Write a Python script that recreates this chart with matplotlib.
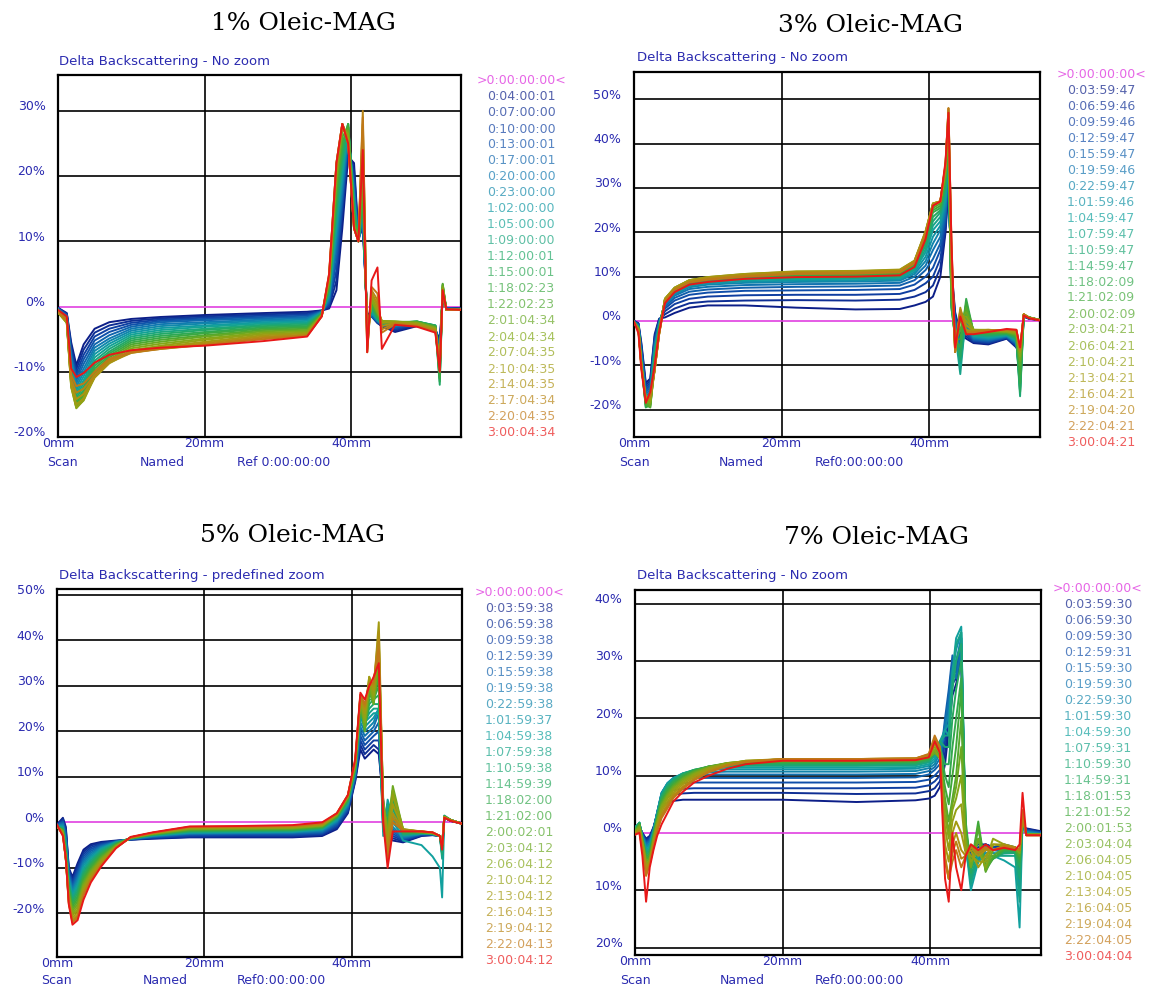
import numpy as np
import matplotlib.pyplot as plt
from matplotlib.colors import LinearSegmentedColormap, to_rgb

# ---------------- 1% Oleic-MAG ----------------
x_1 = [0, 1.2, 1.8, 2.5, 3.5, 5, 7, 10, 14, 20, 28, 34, 36, 37, 38, 38.8, 39.6, 40.4, 41.0, 41.6,
       42.2, 42.8, 43.6, 44.2, 46, 49, 51.5, 52.1, 52.5, 53, 55]
times_1 = ['0:04:00:01', '0:07:00:00', '0:10:00:00', '0:13:00:01', '0:17:00:01', '0:20:00:00',
           '0:23:00:00', '1:02:00:00', '1:05:00:00', '1:09:00:00', '1:12:00:01', '1:15:00:01',
           '1:18:02:23', '1:22:02:23', '2:01:04:34', '2:04:04:34', '2:07:04:35', '2:10:04:35',
           '2:14:04:35', '2:17:04:34', '2:20:04:35', '3:00:04:34']
curves_1 = [
    [-0.2, -1.0, -5.5, -9.0, -5.8, -3.4, -2.4, -1.9, -1.6, -1.3, -1.0, -0.8, -0.6, -0.3, 2.5, 12, 23, 22, 11, 12, -1, -1.5, -2.5, -3, -3.9, -3.0, -3.6, -5, 1, -0.2, -0.3],
    [-0.2, -1.1, -6.0, -9.6, -6.6, -4.0, -2.9, -2.2, -1.8, -1.5, -1.2, -1.0, -0.6, -0.1, 4, 14, 24, 21, 10.5, 12, -1, -1.5, -2.5, -3, -3.7, -2.9, -3.5, -5.5, 1.2, -0.2, -0.3],
    [-0.3, -1.2, -6.5, -10.2, -7.4, -4.6, -3.4, -2.5, -2.0, -1.7, -1.4, -1.2, -0.7, 0.2, 5.5, 15, 25, 20, 10.5, 13, -1.5, -1.5, -2.5, -3, -3.5, -2.8, -3.4, -6, 1.4, -0.3, -0.3],
    [-0.3, -1.3, -7.0, -10.8, -8.1, -5.2, -3.9, -2.8, -2.2, -1.9, -1.6, -1.4, -0.7, 0.5, 7, 16, 25.5, 19, 10, 13, -1.5, -1.5, -2.3, -2.8, -3.3, -2.7, -3.3, -6.5, 1.6, -0.3, -0.4],
    [-0.3, -1.4, -7.5, -11.3, -8.8, -5.8, -4.4, -3.1, -2.4, -2.1, -1.8, -1.6, -0.8, 0.8, 8.5, 17, 26, 18, 10, 14, -2, -1.5, -2.3, -2.8, -3.1, -2.6, -3.2, -7, 1.8, -0.3, -0.4],
    [-0.4, -1.5, -8.0, -11.8, -9.5, -6.3, -4.9, -3.4, -2.7, -2.4, -2.0, -1.8, -0.8, 1.1, 10, 18, 26.5, 17.5, 10, 14, -2, -1, -2.2, -2.7, -3.0, -2.5, -3.1, -7.5, 2, -0.3, -0.4],
    [-0.4, -1.6, -8.5, -12.3, -10.1, -6.8, -5.3, -3.7, -3.0, -2.6, -2.2, -2.0, -0.9, 1.4, 11, 19, 27, 17, 10, 15, -2.5, -1, -2.2, -2.7, -2.9, -2.5, -3.0, -8, 2.2, -0.4, -0.4],
    [-0.5, -1.7, -9.0, -12.8, -10.7, -7.3, -5.7, -4.0, -3.3, -2.9, -2.4, -2.2, -0.9, 1.7, 12, 20, 27, 16.5, 10, 15, -2.5, -1, -2.0, -2.6, -2.8, -2.4, -3.0, -9, 2.4, -0.4, -0.5],
    [-0.5, -1.8, -9.4, -13.2, -11.3, -7.8, -6.1, -4.3, -3.6, -3.1, -2.6, -2.4, -1.0, 2.0, 13, 21, 27.5, 16, 10, 16, -3, -0.5, -2.0, -2.6, -2.7, -2.4, -2.9, -10, 2.6, -0.4, -0.5],
    [-0.6, -1.9, -9.8, -13.6, -11.8, -8.3, -6.5, -4.6, -3.9, -3.4, -2.8, -2.6, -1.0, 2.3, 14, 22, 27.5, 15.5, 10, 16, -3, -0.5, -1.8, -2.5, -2.6, -2.3, -2.9, -11, 2.8, -0.4, -0.5],
    [-0.6, -2.0, -10.2, -14.0, -12.3, -8.7, -6.9, -4.9, -4.2, -3.6, -3.0, -2.8, -1.1, 2.6, 15, 23, 28, 15, 10, 17, -3.5, 0, -1.8, -2.5, -2.5, -2.3, -2.9, -12, 3, -0.5, -0.5],
    [-0.7, -2.1, -10.6, -14.4, -12.8, -9.1, -7.2, -5.2, -4.5, -3.9, -3.2, -3.0, -1.1, 2.9, 16, 24, 28, 14.5, 10, 17, -3.5, 0, -1.5, -2.4, -2.5, -2.3, -3.0, -11.5, 3.2, -0.5, -0.5],
    [-0.7, -2.2, -11.0, -14.8, -13.2, -9.5, -7.5, -5.5, -4.8, -4.1, -3.4, -3.2, -1.2, 3.2, 17, 25, 28, 14, 10, 18, -4, 0.5, -1.5, -2.4, -2.4, -2.3, -3.0, -11, 3.4, -0.5, -0.5],
    [-0.8, -2.3, -11.4, -15.1, -13.6, -9.9, -7.8, -5.8, -5.1, -4.4, -3.6, -3.4, -1.2, 3.5, 18, 26, 27.5, 13.5, 10, 19, -4, 0.5, -1.2, -2.3, -2.4, -2.4, -3.1, -10, 3.5, -0.5, -0.5],
    [-0.8, -2.4, -11.8, -15.4, -14.0, -10.2, -8.1, -6.1, -5.4, -4.6, -3.8, -3.6, -1.3, 3.8, 19, 27, 27, 13, 10, 20, -4.5, 1, -1.0, -2.3, -2.3, -2.4, -3.2, -9.5, 3.3, -0.5, -0.5],
    [-0.9, -2.5, -12.2, -15.6, -14.3, -10.5, -8.3, -6.4, -5.7, -4.9, -4.0, -3.8, -1.3, 4.0, 20, 27.5, 26.5, 12.5, 10, 22, -5, 1, -0.8, -2.2, -2.3, -2.5, -3.3, -9, 3, -0.5, -0.5],
    [-0.9, -2.5, -12.4, -15.5, -14.4, -10.8, -8.6, -6.7, -6.0, -5.1, -4.2, -4.0, -1.4, 4.2, 21, 28, 26, 12, 10, 24, -5.5, 1.5, -0.5, -2.2, -2.3, -2.6, -3.4, -9, 2.8, -0.5, -0.5],
    [-0.9, -2.4, -12.2, -15.0, -14.1, -10.9, -8.7, -6.9, -6.2, -5.4, -4.4, -4.1, -1.4, 4.4, 21, 28, 25.5, 12, 10, 26, -6, 2, 0, -2.5, -2.4, -2.7, -3.5, -9, 2.6, -0.5, -0.5],
    [-0.8, -2.3, -11.8, -14.2, -13.4, -10.8, -8.6, -7.1, -6.4, -5.6, -4.6, -4.3, -1.4, 4.6, 22, 28, 25, 12, 10, 28, -6.5, 2, 0.5, -3, -2.5, -2.8, -3.6, -9, 2.4, -0.5, -0.5],
    [-0.8, -2.2, -11.2, -13.2, -12.6, -10.5, -8.3, -7.1, -6.5, -5.8, -4.8, -4.4, -1.5, 4.8, 22, 28, 25, 12, 10, 30, -7, 2.5, 1, -3.5, -2.6, -2.9, -3.7, -9.5, 2.2, -0.5, -0.5],
    [-0.7, -2.0, -10.5, -12.2, -11.8, -10.0, -8.0, -7.0, -6.5, -5.9, -5.0, -4.5, -1.5, 5.0, 22, 28, 25, 12, 10, 29, -7, 3, 2, -4, -2.7, -3.0, -3.8, -9.5, 2, -0.5, -0.5],
    [-0.5, -1.5, -9.5, -10.8, -10.2, -8.6, -7.4, -6.7, -6.3, -6.0, -5.3, -4.6, -1.5, 5.0, 22, 28, 25, 12, 10, 24, -7, 4, 6, -6.5, -2.8, -3.1, -4.0, -10, 2.5, -0.4, -0.5],
]

# ---------------- 3% Oleic-MAG ----------------
x_2 = [0, 0.6, 1.0, 1.6, 2.2, 2.8, 3.4, 4.2, 5.5, 7.5, 10, 15, 22, 30, 36, 38, 39.5, 40.5, 41.5, 42.2,
       42.6, 43.0, 43.5, 44.2, 45.0, 46, 48, 50.5, 51.8, 52.3, 52.8, 53.5, 55]
times_2 = ['0:03:59:47', '0:06:59:46', '0:09:59:46', '0:12:59:47', '0:15:59:47', '0:19:59:46',
           '0:22:59:47', '1:01:59:46', '1:04:59:47', '1:07:59:47', '1:10:59:47', '1:14:59:47',
           '1:18:02:09', '1:21:02:09', '2:00:02:09', '2:03:04:21', '2:06:04:21', '2:10:04:21',
           '2:13:04:21', '2:16:04:21', '2:19:04:20', '2:22:04:21', '3:00:04:21']
curves_2 = [
    [0.0, -0.5, -5, -14, -13, -3, 0.5, 0.8, 1.8, 3.0, 3.5, 3.5, 3.0, 2.6, 2.7, 3.5, 4.3, 5.5, 10, 20, 30, 12, 2, -3, -4, -5, -5.3, -4, -6, -8, 1, 0.5, 0.2],
    [0.0, -0.6, -5.5, -14.5, -13.5, -3.5, 0.3, 1.5, 2.8, 4.0, 4.4, 4.6, 4.7, 4.6, 4.8, 5.5, 6.5, 8, 12, 21, 31, 11, 1.5, -3.5, -3.5, -4.8, -5.1, -3.9, -5.8, -8.5, 1, 0.5, 0.2],
    [0.0, -0.7, -6, -15, -14, -4, 0.1, 2.2, 3.8, 5.0, 5.5, 5.8, 5.9, 5.9, 6.1, 7.0, 8.5, 10, 14, 22, 32, 10, 1, -4, -3, -4.6, -4.9, -3.8, -5.6, -9, 1, 0.6, 0.2],
    [-0.1, -0.8, -6.5, -15.5, -14.5, -4.5, -0.1, 2.8, 4.6, 5.9, 6.4, 6.8, 6.9, 7.0, 7.2, 8.2, 10, 12, 16, 23, 33, 9, 0.5, -4.5, -2.5, -4.4, -4.7, -3.7, -5.4, -10, 1, 0.6, 0.2],
    [-0.1, -0.9, -7, -16, -15, -5, -0.3, 3.2, 5.2, 6.6, 7.1, 7.5, 7.7, 7.8, 8.0, 9.2, 11.5, 14, 17.5, 24, 34, 8, 0, -5, -2, -4.2, -4.5, -3.6, -5.2, -11, 1.2, 0.6, 0.2],
    [-0.1, -1.0, -7.5, -16.5, -15.5, -5.5, -0.5, 3.6, 5.7, 7.2, 7.7, 8.1, 8.3, 8.4, 8.6, 10.0, 12.5, 16, 19, 25, 35, 7, -0.5, -6, -1.5, -4, -4.3, -3.5, -5, -12, 1.2, 0.7, 0.2],
    [-0.2, -1.1, -8, -17, -16, -6, -0.7, 3.9, 6.0, 7.6, 8.2, 8.6, 8.8, 8.9, 9.1, 10.6, 13.5, 17.5, 20.5, 26, 36, 6, -1, -7, -1, -3.8, -4.1, -3.4, -4.8, -13, 1.2, 0.7, 0.2],
    [-0.2, -1.2, -8.5, -17.5, -16.5, -6.5, -0.9, 4.1, 6.3, 7.9, 8.5, 8.9, 9.1, 9.2, 9.4, 11.0, 14.5, 19, 21.5, 27, 37, 5, -1.5, -8, 0, -3.6, -3.9, -3.3, -4.6, -14, 1.2, 0.7, 0.2],
    [-0.2, -1.3, -9, -18, -17, -7, -1.1, 4.3, 6.5, 8.2, 8.8, 9.2, 9.4, 9.5, 9.7, 11.4, 15.5, 20.5, 22.5, 28, 38, 4, -2, -10, 1, -3.4, -3.7, -3.2, -4.4, -15, 1.3, 0.8, 0.2],
    [-0.2, -1.4, -9, -18.5, -17.5, -7.5, -1.3, 4.4, 6.7, 8.4, 9.0, 9.4, 9.6, 9.7, 9.9, 11.7, 16.2, 21.5, 23.5, 29, 38, 4, -2.5, -12, 2, -3.2, -3.5, -3.1, -4.2, -16, 1.3, 0.8, 0.2],
    [-0.3, -1.5, -9.5, -19, -18, -8, -1.5, 4.5, 6.9, 8.6, 9.2, 9.6, 9.8, 9.9, 10.1, 12.0, 17, 22.5, 24.5, 30, 39, 3, -3, -9, 3, -3, -3.3, -3, -4, -17, 1.3, 0.8, 0.2],
    [-0.3, -1.5, -9.5, -19.5, -18.5, -8.5, -1.7, 4.6, 7.0, 8.7, 9.3, 9.8, 10.0, 10.1, 10.3, 12.3, 17.7, 23.5, 25, 31, 40, 3, -3.5, -8, 4, -2.8, -3.1, -2.9, -3.8, -16, 1.3, 0.8, 0.2],
    [-0.3, -1.6, -9.5, -19.5, -19, -9, -1.9, 4.7, 7.1, 8.8, 9.4, 10.0, 10.2, 10.3, 10.5, 12.6, 18.3, 24.5, 25.5, 32, 41, 4, -4, -6, 5, -2.6, -2.9, -2.8, -3.6, -14, 1.4, 0.8, 0.2],
    [-0.3, -1.6, -10, -19, -19.5, -9.5, -2.1, 4.8, 7.2, 8.9, 9.5, 10.2, 10.4, 10.5, 10.7, 12.9, 18.8, 25, 26, 32.5, 42, 5, -4.5, -4, 4, -2.4, -2.7, -2.7, -3.4, -12, 1.4, 0.8, 0.2],
    [-0.3, -1.7, -10, -18.5, -19.5, -10, -2.3, 4.9, 7.3, 9.0, 9.6, 10.3, 10.6, 10.7, 10.9, 13.1, 19.3, 25.5, 26.5, 33, 43, 6, -5, -2, 3, -2.2, -2.5, -2.6, -3.2, -10, 1.4, 0.8, 0.2],
    [-0.3, -1.7, -10, -18, -19, -10.5, -2.5, 5.0, 7.4, 9.1, 9.7, 10.4, 10.8, 10.9, 11.1, 13.3, 19.7, 26, 27, 33.5, 44, 8, -5.5, 0, 2, -2, -2.3, -2.5, -3, -9, 1.4, 0.8, 0.2],
    [-0.3, -1.8, -10, -18, -18.5, -11, -2.7, 5.0, 7.5, 9.2, 9.8, 10.5, 11.0, 11.1, 11.3, 13.5, 20, 26.5, 27, 34, 45, 10, -6, 1, 1, -2, -2.1, -2.4, -2.8, -8, 1.5, 0.8, 0.2],
    [-0.3, -1.8, -10, -17.5, -18, -11, -2.9, 5.0, 7.5, 9.2, 9.9, 10.6, 11.1, 11.2, 11.5, 13.6, 20.2, 26.5, 27, 34.5, 46, 12, -6.5, 2, 0, -2, -2.0, -2.3, -2.6, -7, 1.5, 0.8, 0.2],
    [-0.3, -1.9, -10, -17.5, -17.5, -11, -3.0, 5.0, 7.5, 9.2, 9.9, 10.6, 11.2, 11.3, 11.6, 13.6, 20.3, 26.5, 27, 35, 47, 14, -7, 2.5, -1, -2.2, -2.0, -2.2, -2.4, -7, 1.5, 0.7, 0.2],
    [-0.3, -2.0, -10, -17.5, -17, -11, -3.0, 4.8, 7.3, 9.0, 9.7, 10.4, 11.0, 11.1, 11.4, 13.4, 20, 26.5, 27, 35, 48, 16, -7, 3, -2, -2.4, -2.1, -2.1, -2.2, -6.5, 1.5, 0.7, 0.2],
    [-0.2, -2.1, -10.2, -17.8, -17, -11, -3.0, 4.6, 7.1, 8.8, 9.5, 10.2, 10.8, 10.9, 11.2, 13.2, 19.7, 26.2, 27, 35.2, 48, 17, -7, 2.5, -2.5, -2.5, -2.2, -2.0, -2.1, -6.5, 1.5, 0.7, 0.2],
    [-0.2, -2.2, -10.5, -18, -17, -11, -3.0, 4.5, 7.0, 8.7, 9.3, 10.0, 10.6, 10.7, 11.0, 13.0, 19.5, 26, 27, 35.5, 48, 18, -7, 2, -3, -2.6, -2.2, -2.0, -2, -6.5, 1.5, 0.7, 0.2],
    [-0.2, -2.8, -11, -18.5, -16, -10, -2.5, 4.0, 6.5, 8.2, 8.8, 9.5, 9.9, 10.0, 10.3, 12.2, 18.5, 26, 27, 36, 47, 18, -6, 1, -3, -3, -2.5, -1.8, -2, -6, 1.2, 0.6, 0.1],
]

# ---------------- 5% Oleic-MAG ----------------
x_3 = [0, 0.8, 1.2, 1.6, 2.1, 2.8, 3.6, 4.6, 6, 8, 10, 13, 18, 25, 32, 36, 38, 39.5, 40.5, 41.2,
       41.8, 42.4, 43.0, 43.7, 44.3, 44.9, 45.6, 47, 49.5, 51, 52, 52.3, 52.6, 53.5, 55]
times_3 = ['0:03:59:38', '0:06:59:38', '0:09:59:38', '0:12:59:39', '0:15:59:38', '0:19:59:38',
           '0:22:59:38', '1:01:59:37', '1:04:59:38', '1:07:59:38', '1:10:59:38', '1:14:59:39',
           '1:18:02:00', '1:21:02:00', '2:00:02:01', '2:03:04:12', '2:06:04:12', '2:10:04:12',
           '2:13:04:12', '2:16:04:13', '2:19:04:12', '2:22:04:13', '3:00:04:12']
curves_3 = [
    [-0.5, 1.0, -1, -10, -12, -9, -6, -4.8, -4.3, -4.0, -3.8, -3.6, -3.3, -3.3, -3.3, -3.0, -1.5, 2, 9, 16, 14, 15, 16, 15, 5, -3, -4, -4.4, -3, -2.8, -3, -5, 1, 0.3, -0.3],
    [-0.5, 0.8, -1.5, -10.3, -12.5, -9.6, -6.5, -5.1, -4.5, -4.1, -3.8, -3.5, -3.2, -3.1, -3.1, -2.8, -1.2, 2.3, 9.3, 17, 15, 16, 17, 16, 4, -2, -3.5, -4.2, -2.9, -2.8, -3, -5, 1, 0.3, -0.3],
    [-0.6, 0.5, -2, -10.6, -13, -10.2, -7, -5.5, -4.7, -4.1, -3.8, -3.4, -3.0, -2.9, -2.9, -2.6, -0.9, 2.6, 9.6, 18, 16, 17, 18, 18, 3, -1, -3, -4, -2.8, -2.7, -3, -5.5, 1, 0.4, -0.3],
    [-0.6, 0.2, -2.5, -11, -13.5, -10.8, -7.5, -5.9, -4.9, -4.2, -3.7, -3.3, -2.8, -2.7, -2.7, -2.4, -0.6, 2.9, 9.9, 19, 17, 18, 19, 20, 2, 0, -2.5, -3.8, -2.7, -2.7, -3, -5.5, 1, 0.4, -0.3],
    [-0.7, 0, -3, -11.4, -14, -11.4, -8, -6.3, -5.1, -4.2, -3.7, -3.2, -2.6, -2.5, -2.5, -2.2, -0.3, 3.2, 10.2, 20, 18, 19, 20, 22, 1, 1, -2, -3.6, -2.6, -2.6, -3, -6, 1.2, 0.4, -0.3],
    [-0.7, -0.3, -3.5, -11.8, -14.5, -12, -8.5, -6.7, -5.3, -4.3, -3.7, -3.1, -2.5, -2.4, -2.3, -2.0, 0, 3.5, 10.5, 21, 19, 20, 21, 24, 0, 2, -1.5, -3.4, -2.5, -2.6, -3, -6, 1.2, 0.5, -0.3],
    [-0.8, -0.5, -4, -12.2, -15, -12.6, -9, -7.1, -5.5, -4.3, -3.6, -3.0, -2.4, -2.3, -2.2, -1.8, 0.2, 3.8, 10.8, 22, 20, 21, 22, 25, -1, 3, -1, -3.2, -2.5, -2.6, -3, -7, 1.2, 0.5, -0.3],
    [-0.8, -0.8, -4.5, -12.6, -15.5, -13.2, -9.5, -7.5, -5.7, -4.4, -3.6, -2.9, -2.3, -2.2, -2.1, -1.6, 0.4, 4.0, 11, 23, 21, 22, 23, 25, -2, 4, 0, -3, -2.5, -2.6, -3, -7, 1.2, 0.5, -0.3],
    [-0.9, -1, -5, -13, -16, -13.8, -10, -7.9, -5.9, -4.4, -3.6, -2.9, -2.2, -2.1, -2.0, -1.5, 0.6, 4.2, 11.2, 23.5, 22, 23, 24, 24, -3, 5, 1, -4, -5, -7.5, -10, -16.5, 1.5, 0.5, -0.3],
    [-0.9, -1.2, -5.5, -13.4, -16.5, -14.4, -10.5, -8.3, -6.1, -4.5, -3.5, -2.8, -2.1, -2.0, -1.9, -1.4, 0.8, 4.4, 11.4, 24, 22, 24, 25, 25, -2, 4, 2, -2.8, -2.4, -2.5, -3, -8, 1.3, 0.5, -0.3],
    [-1.0, -1.4, -6, -13.8, -17, -15, -11, -8.7, -6.4, -4.6, -3.5, -2.8, -2.0, -1.9, -1.8, -1.3, 1.0, 4.6, 11.6, 24.5, 22, 25, 26, 26, -1, 3, 3, -2.6, -2.4, -2.5, -3, -7, 1.3, 0.5, -0.3],
    [-1.0, -1.5, -6.5, -14.2, -17.5, -15.6, -11.5, -9.1, -6.7, -4.7, -3.5, -2.7, -1.9, -1.8, -1.7, -1.2, 1.1, 4.8, 11.8, 25, 21, 26, 27, 28, 0, 2, 4, -2.4, -2.3, -2.5, -3, -6, 1.3, 0.5, -0.3],
    [-1.0, -1.6, -7, -14.6, -18, -16.2, -12, -9.5, -7.0, -4.8, -3.5, -2.7, -1.8, -1.7, -1.6, -1.1, 1.2, 5.0, 12, 25.5, 21, 27, 27, 30, 1, 1, 5, -2.2, -2.3, -2.4, -3, -6, 1.3, 0.5, -0.3],
    [-1.0, -1.7, -7.5, -15, -18.5, -16.8, -12.5, -9.9, -7.3, -4.9, -3.5, -2.6, -1.7, -1.6, -1.5, -1.0, 1.3, 5.2, 12.2, 26, 20, 28, 27, 32, 2, 0, 6, -2, -2.2, -2.4, -3, -5.5, 1.3, 0.5, -0.3],
    [-1.0, -1.8, -8, -15.4, -19, -17.4, -13, -10.3, -7.6, -5.0, -3.4, -2.6, -1.6, -1.5, -1.4, -0.9, 1.4, 5.4, 12.4, 26.5, 20, 29, 26, 34, 3, -1, 7, -1.8, -2.2, -2.4, -3, -5.5, 1.3, 0.5, -0.3],
    [-1.0, -1.9, -8, -15.8, -19.5, -18, -13.5, -10.7, -7.9, -5.1, -3.4, -2.5, -1.5, -1.4, -1.3, -0.8, 1.5, 5.5, 12.6, 27, 21, 30, 26, 36, 4, -2, 8, -1.6, -2.1, -2.4, -3, -5, 1.2, 0.5, -0.3],
    [-1.0, -2.0, -8, -16.2, -20, -18.6, -14, -11.1, -8.2, -5.2, -3.4, -2.5, -1.4, -1.3, -1.2, -0.7, 1.6, 5.6, 12.8, 27, 22, 31, 27, 38, 5, -3, 7, -1.5, -2.1, -2.3, -3, -5, 1.2, 0.5, -0.3],
    [-1.0, -2.2, -8, -16.6, -20.5, -19.2, -14.5, -11.5, -8.5, -5.3, -3.4, -2.4, -1.3, -1.2, -1.1, -0.6, 1.7, 5.7, 13, 27.5, 23, 32, 28, 40, 4, -4, 6, -1.5, -2.0, -2.3, -3, -5, 1.2, 0.5, -0.3],
    [-0.9, -2.4, -8, -17, -21, -19.8, -15, -11.9, -8.8, -5.4, -3.3, -2.4, -1.2, -1.1, -1.0, -0.5, 1.8, 5.8, 13.2, 27.5, 24, 32, 29, 44, 3, -5, 4, -1.6, -2.0, -2.3, -3, -5, 1.2, 0.4, -0.3],
    [-0.8, -2.6, -8, -17.4, -21.5, -20.4, -15.5, -12.3, -9.1, -5.5, -3.3, -2.3, -1.1, -1.0, -0.9, -0.4, 1.9, 5.9, 13.4, 28, 25, 31, 30, 42, 2, -6, 2, -1.7, -2.0, -2.3, -3, -5, 1.1, 0.4, -0.3],
    [-0.8, -2.7, -8, -17.6, -21.8, -20.7, -15.8, -12.5, -9.3, -5.6, -3.3, -2.3, -1.0, -1.0, -0.8, -0.3, 1.9, 5.9, 13.5, 28, 25.5, 30.5, 30.5, 40, 1.5, -7, 1, -1.8, -2.0, -2.2, -3, -5, 1.1, 0.4, -0.3],
    [-0.7, -2.8, -8, -17.8, -22, -21, -16, -12.7, -9.4, -5.6, -3.3, -2.3, -1.0, -0.9, -0.8, -0.2, 2.0, 6.0, 13.6, 28, 26, 30, 31, 38, 1, -8, 0, -1.8, -2.0, -2.2, -3, -5, 1.1, 0.4, -0.3],
    [-0.5, -3.0, -8, -18, -22.5, -21.5, -17, -13.2, -9.7, -5.7, -3.2, -2.2, -0.9, -0.8, -0.6, 0.0, 2.0, 6.0, 14, 28.5, 27, 30, 32, 35, 0, -10, -2, -2, -2.0, -2.2, -3, -6, 1.0, 0.3, -0.3],
]

# ---------------- 7% Oleic-MAG ----------------
x_4 = [0, 0.6, 1.0, 1.5, 2.0, 2.5, 3.0, 3.6, 4.4, 5.2, 6.5, 8, 10, 12.5, 15, 20, 30, 38, 39.8, 40.6,
       41.3, 42.0, 42.5, 43.0, 43.5, 44.2, 44.8, 45.5, 46.5, 47.5, 48.5, 50, 51.5, 52.1, 52.5, 53, 55]
times_4 = ['0:03:59:30', '0:06:59:30', '0:09:59:30', '0:12:59:31', '0:15:59:30', '0:19:59:30',
           '0:22:59:30', '1:01:59:30', '1:04:59:30', '1:07:59:31', '1:10:59:30', '1:14:59:31',
           '1:18:01:53', '1:21:01:52', '2:00:01:53', '2:03:04:04', '2:06:04:05', '2:10:04:05',
           '2:13:04:05', '2:16:04:05', '2:19:04:04', '2:22:04:05', '3:00:04:04']
curves_4 = [
    [0.5, 1.0, 0, -1, -0.5, 1, 3.0, 4.5, 5.3, 5.6, 5.8, 5.8, 5.8, 5.8, 5.8, 5.8, 5.4, 5.7, 6.0, 6.5, 8, 12, 18, 24, 26, 30, -2, -3, -2, -2, -2.5, -2, -2.5, -4, 1, 0.8, 0.3],
    [0.6, 1.1, 0, -1.2, -0.7, 0.9, 3.2, 5.2, 6.3, 6.7, 6.9, 7.0, 7.0, 7.0, 7.0, 7.0, 6.8, 6.9, 7.3, 7.8, 9, 14, 20, 26, 27, 31, -2.5, -3.5, -2.5, -2, -2.5, -2.2, -2.6, -4.5, 1, 0.7, 0.2],
    [0.7, 1.2, -0.2, -1.4, -0.9, 0.8, 3.4, 5.8, 7.1, 7.5, 7.7, 7.8, 7.8, 7.8, 7.8, 7.8, 7.8, 7.9, 8.3, 9.0, 10, 16, 22, 28, 28, 32, -3, -4, -3, -2, -2.5, -2.4, -2.7, -5, 1.2, 0.6, 0.1],
    [0.8, 1.3, -0.2, -1.6, -1.1, 0.7, 3.5, 6.3, 7.8, 8.4, 8.7, 8.8, 8.8, 8.8, 8.8, 8.8, 8.8, 8.9, 9.3, 10.0, 11, 18, 24, 30, 29, 34, -3, -4.5, -3.5, -2.5, -2.5, -2.6, -2.8, -5.5, 1.2, 0.5, 0],
    [0.9, 1.4, -0.4, -1.8, -1.3, 0.6, 3.6, 6.7, 8.3, 9.0, 9.4, 9.6, 9.6, 9.6, 9.6, 9.6, 9.6, 9.7, 10.2, 11.0, 12, 20, 25, 31, 28, 33, -3, -5, -4, -2.5, -3, -2.8, -2.9, -6, 1.4, 0.4, 0],
    [1.0, 1.5, -0.4, -2, -1.5, 0.5, 3.6, 7.0, 8.6, 9.4, 9.9, 10.1, 10.2, 10.2, 10.2, 10.2, 10.2, 10.3, 10.8, 11.5, 13, 19, 23, 29, 27, 32, -3, -6, -4.5, -3, -3, -3, -3, -7, 1.4, 0.3, -0.1],
    [1.0, 1.6, -0.6, -2.3, -1.8, 0.4, 3.5, 7.0, 8.7, 9.6, 10.2, 10.5, 10.6, 10.7, 10.7, 10.7, 10.7, 10.8, 11.3, 12, 14, 18, 21, 27, 30, 34, -3, -7, -5, -3, -3, -3.3, -3.2, -8, 1.6, 0.2, -0.2],
    [1.0, 1.7, -0.6, -2.6, -2.1, 0.3, 3.4, 6.9, 8.7, 9.6, 10.4, 10.8, 11.0, 11.1, 11.1, 11.1, 11.1, 11.2, 11.7, 12.5, 15, 18, 19, 28, 32, 35, -3, -8, -5, -3.5, -3.5, -3.6, -3.5, -10, 1.8, 0.1, -0.2],
    [0.9, 1.8, -0.8, -2.9, -2.4, 0.2, 3.3, 6.8, 8.6, 9.5, 10.4, 10.9, 11.2, 11.4, 11.4, 11.4, 11.4, 11.5, 12.0, 13, 16, 18, 17, 28, 34, 36, -2, -10, -5, -4, -4, -4.8, -6, -16.5, 2, 0, -0.3],
    [0.8, 1.8, -0.8, -3.2, -2.7, 0.1, 3.2, 6.6, 8.4, 9.4, 10.4, 11.0, 11.4, 11.6, 11.7, 11.7, 11.7, 11.8, 12.3, 13.5, 16, 17, 17, 27, 33, 35, -1, -9, -4, -4.5, -4, -4, -4, -12, 2.2, -0.1, -0.3],
    [0.7, 1.8, -1, -3.5, -3, 0, 3.0, 6.4, 8.2, 9.2, 10.3, 11.0, 11.5, 11.8, 11.9, 11.9, 11.9, 12.0, 12.5, 14, 16, 15, 15, 25, 30, 33, 0, -8, -3, -5, -4.5, -3.5, -3.5, -8, 2.4, -0.2, -0.3],
    [0.6, 1.7, -1, -3.8, -3.3, -0.2, 2.8, 6.1, 7.9, 9.0, 10.2, 11.0, 11.6, 11.9, 12.1, 12.1, 12.1, 12.2, 12.7, 14, 15, 12, 12, 20, 25, 30, 1, -7, -1, -5.5, -4.5, -3.2, -3.2, -6, 2.6, -0.2, -0.3],
    [0.5, 1.6, -1.2, -4.1, -3.6, -0.4, 2.6, 5.8, 7.6, 8.8, 10.0, 10.9, 11.6, 12.0, 12.2, 12.3, 12.3, 12.4, 12.9, 14, 15, 10, 8, 15, 20, 27, 2, -6, 1, -6, -4.5, -3, -3, -5, 2.8, -0.3, -0.3],
    [0.4, 1.5, -1.2, -4.4, -3.9, -0.6, 2.4, 5.5, 7.3, 8.5, 9.8, 10.8, 11.6, 12.1, 12.3, 12.4, 12.4, 12.5, 13.0, 14, 14, 8, 5, 10, 15, 25, 1, -6, 2, -6.5, -4.5, -2.8, -2.9, -4.5, 3, -0.3, -0.3],
    [0.3, 1.4, -1.4, -4.7, -4.2, -0.8, 2.2, 5.2, 7.0, 8.3, 9.6, 10.7, 11.6, 12.2, 12.4, 12.5, 12.5, 12.6, 13.1, 14, 14, 6, 2, 6, 10, 20, 0, -6, 1, -6.8, -4, -2.6, -2.8, -4, 3, -0.3, -0.3],
    [0.2, 1.2, -1.4, -5, -4.5, -1, 2.0, 4.9, 6.7, 8.0, 9.4, 10.5, 11.5, 12.2, 12.5, 12.6, 12.6, 12.7, 13.2, 14, 13, 5, 0, 5, 8, 15, -1, -6, -1, -6.5, -3, -2.4, -2.7, -3.5, 3, -0.3, -0.3],
    [0.1, 1.0, -1.6, -5.3, -4.8, -1.3, 1.7, 4.6, 6.4, 7.7, 9.1, 10.3, 11.4, 12.2, 12.5, 12.7, 12.7, 12.8, 13.3, 14.5, 13, 3, -1, 4, 6, 10, -2, -5, -3, -6, -2, -2.2, -2.6, -3.5, 3, -0.3, -0.3],
    [0, 0.8, -1.8, -5.6, -5, -1.6, 1.4, 4.2, 6.0, 7.4, 8.8, 10.1, 11.3, 12.1, 12.6, 12.8, 12.8, 12.9, 13.4, 15, 14, 1, -3, 2, 4, 5, -3, -4, -5, -5, -1, -2, -2.5, -3, 3, -0.3, -0.3],
    [-0.1, 0.6, -2, -6, -5, -1.9, 1.1, 3.8, 5.5, 7.0, 8.5, 9.8, 11.1, 12.0, 12.6, 12.9, 12.9, 13.0, 13.5, 15.5, 14, -2, -5, 0, 2, 0, -3.5, -3, -6, -4, -2, -2, -2.5, -3, 3, -0.3, -0.3],
    [-0.2, 0.4, -2.5, -6.5, -5.2, -2.2, 0.8, 3.3, 5.0, 6.6, 8.1, 9.5, 10.9, 11.9, 12.5, 12.9, 12.9, 13.0, 13.6, 16, 15, -4, -8, -2, 0, -3, -4, -2.5, -4, -3, -3, -2.2, -2.6, -3, 3.5, -0.4, -0.4],
    [-0.2, 0.3, -2.8, -7, -5.4, -2.4, 0.5, 3.0, 4.6, 6.3, 7.9, 9.3, 10.7, 11.8, 12.4, 12.9, 12.9, 13.0, 13.7, 16.5, 15, -4.5, -8, -3.5, -1.5, -4.5, -4, -2.2, -3.5, -2.7, -3, -2.3, -2.6, -3, 3.8, -0.4, -0.4],
    [-0.3, 0.2, -3, -7.5, -5.5, -2.6, 0.3, 2.6, 4.3, 6.1, 7.7, 9.2, 10.6, 11.7, 12.4, 12.9, 12.9, 13.0, 13.8, 17, 15, -5, -8, -5, -3, -6, -4, -2, -3, -2.5, -3, -2.4, -2.7, -3, 4, -0.4, -0.4],
    [-0.3, 0.0, -4, -12, -6, -3, -0.5, 1.5, 3.5, 5.5, 7.2, 8.8, 10.0, 11.2, 12.0, 12.6, 12.6, 12.7, 13.2, 16, 14, -8, -12, 0, -6, -10, -4, -2, -3, -2, -3, -2.6, -3, -2, 7, -0.4, -0.4],
]

W, H = 1159, 990
BLUE = '#2b2bb0'
MAGENTA = '#e040e0'
cmap = LinearSegmentedColormap.from_list(
    'scan', ['#0c1e88', '#1048a8', '#1078b0', '#10a0a0', '#20a868',
             '#40a838', '#80a818', '#a89810', '#c07818'])


def fx(px):
    return px / W


def fy(py):
    return 1 - py / H


def lighten(c, a=0.3):
    r = np.array(to_rgb(c))
    return tuple(r + (1 - r) * a)


def draw_panel(fig, box, x, curves, times, ylim, yticks, ylabels, title, title_pos,
               zoom_text, zoom_pos, ref_text, foot_x, foot_y, legend_pos):
    left, top, right, bottom = box
    ax = fig.add_axes([fx(left), fy(bottom), (right - left) / W, (bottom - top) / H])
    ax.set_xlim(0, 55)
    ax.set_ylim(*ylim)
    ax.set_xticks([])
    ax.set_yticks([])
    for sp in ax.spines.values():
        sp.set_linewidth(1.6)
    for v in yticks:
        if v != 0:
            ax.axhline(v, color='black', lw=1.2, zorder=1)
    for v in (20, 40):
        ax.axvline(v, color='black', lw=1.2, zorder=1)

    n = len(curves)
    colors = [cmap(i / (n - 2)) for i in range(n - 1)] + ['#e81818']
    ax.plot(x, np.zeros(len(x)), color=MAGENTA, lw=1.2, zorder=2)
    for i, c in enumerate(curves):
        ax.plot(x, c, color=colors[i], lw=1.4, zorder=3 + i)

    for v, lab in zip(yticks, ylabels):
        ax.annotate(lab, xy=(0, v), xycoords=('axes fraction', 'data'), xytext=(-9, 3),
                    textcoords='offset points', ha='right', va='center', fontsize=9, color=BLUE)
    for v in (0, 20, 40):
        ax.annotate(f'{v}mm', xy=(v, 0), xycoords=('data', 'axes fraction'), xytext=(0, -5),
                    textcoords='offset points', ha='center', va='center', fontsize=9, color=BLUE)

    fig.text(fx(title_pos[0]), fy(title_pos[1]), title, ha='center', va='center',
             fontsize=18, family='DejaVu Serif')
    fig.text(fx(zoom_pos[0]), fy(zoom_pos[1]), zoom_text, ha='left', va='center',
             fontsize=9.5, color=BLUE)
    for px, s in zip(foot_x, ['Scan', 'Named', ref_text]):
        fig.text(fx(px), fy(foot_y), s, ha='left', va='center', fontsize=9, color=BLUE)

    cx, cy = legend_pos
    fig.text(fx(cx), fy(cy), '>0:00:00:00<', ha='center', va='center', fontsize=9,
             color=lighten(MAGENTA, 0.2))
    for i, t in enumerate(times):
        fig.text(fx(cx), fy(cy + 16 * (i + 1)), t, ha='center', va='center', fontsize=9,
                 color=lighten(colors[i]))


def main():
    fig = plt.figure(figsize=(W / 100, H / 100), dpi=100)

    draw_panel(fig, (58, 75, 461, 437), x_1, curves_1, times_1, (-20, 35.5),
               [-20, -10, 0, 10, 20, 30], ['-20%', '-10%', '0%', '10%', '20%', '30%'],
               '1% Oleic-MAG', (303, 23), 'Delta Backscattering - No zoom', (59, 62),
               'Ref 0:00:00:00', (47, 140, 237), 463, (521, 81))

    draw_panel(fig, (634, 72, 1040, 437), x_2, curves_2, times_2, (-26.2, 56.2),
               [-20, -10, 0, 10, 20, 30, 40, 50],
               ['-20%', '-10%', '0%', '10%', '20%', '30%', '40%', '50%'],
               '3% Oleic-MAG', (871, 25), 'Delta Backscattering - No zoom', (637, 57),
               'Ref0:00:00:00', (619, 719, 815), 462, (1101, 74))

    draw_panel(fig, (57, 589, 462, 957), x_3, curves_3, times_3, (-29.6, 51.3),
               [-20, -10, 0, 10, 20, 30, 40, 50],
               ['-20%', '-10%', '0%', '10%', '20%', '30%', '40%', '50%'],
               '5% Oleic-MAG', (293, 535), 'Delta Backscattering - predefined zoom', (59, 576),
               'Ref0:00:00:00', (41, 143, 237), 980, (519, 593))

    draw_panel(fig, (635, 590, 1041, 955), x_4, curves_4, times_4, (-21.3, 42.4),
               [-20, -10, 0, 10, 20, 30, 40],
               ['20%', '10%', '0%', '10%', '20%', '30%', '40%'],
               '7% Oleic-MAG', (876, 538), 'Delta Backscattering - No zoom', (637, 576),
               'Ref0:00:00:00', (620, 720, 815), 980, (1098, 589))

    fig.savefig('out.png', dpi=100)


if __name__ == '__main__':
    main()
